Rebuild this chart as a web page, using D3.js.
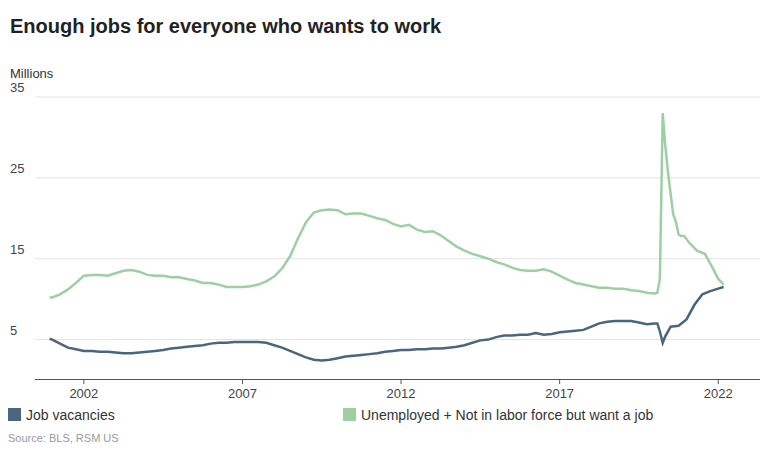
<!DOCTYPE html><html><head><meta charset="utf-8">
<script src="https://cdn.jsdelivr.net/npm/d3@7"></script>
<style>body{margin:0;background:#fff;font-family:Arial,"Liberation Sans",sans-serif}</style></head><body>
<svg id="c" width="768" height="453"></svg>
<script>
const yTicks=[5,15,25,35];
const xTicks=[2002,2007,2012,2017,2022];
const qDates=[];for(let y=2001;y<=2019;y++)for(let q=0;q<4;q++)qDates.push(y+q*0.25+0.04);
const vacDates=[2000.96].concat(qDates,[2020.04,2020.12,2020.2,2020.29,2020.37,2020.54,2020.79,2021.04,2021.29,2021.54,2021.79,2022.04,2022.21]);
const vacancies=[5.1, 5.0,4.5,4.0,3.8, 3.6,3.6,3.5,3.5, 3.4,3.3,3.3,3.4, 3.5,3.6,3.7,3.9, 4.0,4.1,4.2,4.3, 4.5,4.6,4.6,4.7, 4.7,4.7,4.7,4.6, 4.3,4.0,3.6,3.2, 2.8,2.5,2.4,2.5, 2.7,2.9,3.0,3.1, 3.2,3.3,3.5,3.6, 3.7,3.7,3.8,3.8, 3.9,3.9,4.0,4.1, 4.3,4.6,4.9,5.0, 5.3,5.5,5.5,5.6, 5.6,5.8,5.6,5.7, 5.9,6.0,6.1,6.2, 6.6,7.0,7.2,7.3, 7.3,7.3,7.1,6.9,
 7.0,7.0,6.0,4.6,5.4,6.6,6.7,7.5,9.3,10.6,11.0,11.3,11.5];
const unDates=[2000.96].concat(qDates,[2020.04,2020.12,2020.2,2020.29,2020.37,2020.46,2020.54,2020.62,2020.71,2020.79,2020.87,2020.96,2021.12,2021.37,2021.62,2021.87,2022.04,2022.21]);
const unemployed=[10.2, 10.2,10.6,11.2,12.0, 12.9,13.0,13.0,12.9, 13.2,13.5,13.6,13.4, 13.0,12.9,12.9,12.7, 12.7,12.5,12.3,12.0, 12.0,11.8,11.5,11.5, 11.5,11.6,11.8,12.2, 12.8,13.8,15.3,17.5, 19.5,20.7,21.0,21.1, 21.0,20.5,20.6,20.6, 20.3,20.0,19.8,19.3, 19.0,19.2,18.6,18.3, 18.4,17.9,17.2,16.5, 16.0,15.6,15.3,15.0, 14.6,14.3,13.9,13.6, 13.5,13.5,13.7,13.4, 12.9,12.4,12.0,11.8, 11.6,11.4,11.4,11.3, 11.3,11.1,11.0,10.8,
 10.7,10.8,12.5,33.0,29.0,25.5,23.0,20.5,19.5,18.0,17.8,17.8,17.0,16.0,15.6,13.8,12.5,11.8];
const svg=d3.select("#c");
const x=d3.scaleLinear().domain([2000.5,2022.6]).range([35,736]);
const y=d3.scaleLinear().domain([0,35]).range([380,97]);
svg.append("text").attr("x",10).attr("y",33).attr("font-size",20).attr("font-weight","bold").attr("fill","#222").text("Enough jobs for everyone who wants to work");
svg.append("text").attr("x",10).attr("y",78).attr("font-size",13).attr("fill","#333").text("Millions");
yTicks.forEach(t=>{
 svg.append("line").attr("x1",35).attr("x2",760).attr("y1",y(t)).attr("y2",y(t)).attr("stroke","#e3e3e3");
 svg.append("text").attr("x",10).attr("y",y(t)-5).attr("font-size",13).attr("fill","#444").text(t);
});
svg.append("line").attr("x1",35).attr("x2",760).attr("y1",379.5).attr("y2",379.5).attr("stroke","#555");
xTicks.forEach(t=>{
 svg.append("line").attr("x1",x(t+0.04)).attr("x2",x(t+0.04)).attr("y1",379).attr("y2",384).attr("stroke","#555");
 svg.append("text").attr("x",x(t+0.04)).attr("y",398).attr("text-anchor","middle").attr("font-size",13).attr("fill","#444").text(t);
});
const line=d3.line().x(d=>x(d[0])).y(d=>y(d[1]));
svg.append("path").attr("d",line(d3.zip(unDates,unemployed))).attr("fill","none").attr("stroke","#9ecfa3").attr("stroke-width",2.5);
svg.append("path").attr("d",line(d3.zip(vacDates,vacancies))).attr("fill","none").attr("stroke","#4a6580").attr("stroke-width",2.5);
[[8,"#4a6580","Job vacancies"],[343,"#9ecfa3","Unemployed + Not in labor force but want a job"]].forEach(([lx,c,t])=>{
 svg.append("rect").attr("x",lx).attr("y",408).attr("width",13).attr("height",13).attr("fill",c);
 svg.append("text").attr("x",lx+18).attr("y",420).attr("font-size",14).attr("fill","#333").text(t);
});
svg.append("text").attr("x",8).attr("y",442).attr("font-size",11).attr("fill","#999").text("Source: BLS, RSM US");
</script></body></html>
